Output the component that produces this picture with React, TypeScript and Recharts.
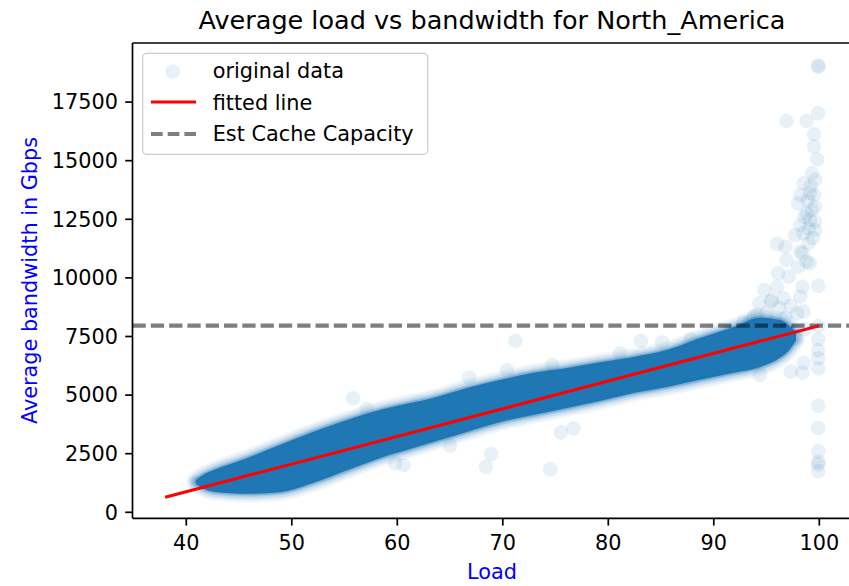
import React from 'react';
import { ComposedChart, Area, Scatter, Line, XAxis, YAxis, ReferenceLine } from 'recharts';

// Dense core of the scatter cloud (read as lower / upper edges of the solid band)
const bandLoad = [40.9, 41.6, 42.6, 45.8, 48.9, 52.0, 55.3, 58.4, 61.2, 63.4, 66.6, 69.8, 72.9, 76.1, 79.2, 82.4, 85.6, 88.7, 91.9, 94.4, 96.3, 97.2, 97.8];
const bandLow = [1230, 1020, 880, 790, 860, 1250, 1800, 2320, 2700, 3000, 3430, 3850, 4150, 4450, 4750, 5090, 5350, 5650, 5950, 6200, 6600, 6950, 7350];
const bandHigh = [1370, 1600, 1800, 2320, 2880, 3430, 3950, 4370, 4660, 4880, 5300, 5650, 5950, 6160, 6400, 6630, 6930, 7440, 7910, 8300, 8200, 7950, 7700];

// Sparse individual points
const outlierLoad = [
  55.8, 57.1, 59.8, 60.6, 65.0, 71.2, 66.8, 70.4, 74.7, 81.1, 75.5, 76.7, 68.9, 68.4, 74.5,
  83.1, 85.1, 87.8, 94.4, 97.3, 98.4, 98.5, 97.8, 98.6,
  99.9, 99.9, 99.9, 99.9, 99.9, 99.9, 99.9, 99.9, 99.9, 99.9, 99.9, 99.9, 99.9, 99.9, 99.9,
  96.9, 98.8, 99.5, 99.5, 99.8, 99.3, 98.5, 99.6, 99.1, 98.2, 99.5, 98.0, 99.6, 98.8, 99.1, 99.6,
  98.2, 97.7, 99.6, 96.0, 96.8, 98.2, 99.0, 96.9, 98.0, 98.8, 96.1, 97.1, 94.8, 96.0, 98.4,
  94.3, 95.5, 96.6, 98.2, 97.9, 98.5, 93.8, 95.4, 94.1, 92.8, 99.1, 98.4,
  99.2, 98.9, 99.3, 98.6, 99.0, 99.4, 98.5, 95.0, 96.2, 93.5, 96.8, 97.3, 95.8,
];
const outlierBw = [
  4860, 4400, 2090, 2020, 2850, 7310, 5750, 6070, 6280, 6780, 3410, 3580, 2490, 1950, 1830,
  7310, 7240, 7380, 5860, 6000, 5960, 6370, 7400, 7800,
  19000, 19060, 17020, 9660, 7950, 7380, 6920, 6570, 6140, 4540, 3600, 2600, 2150, 2050, 1750,
  16690, 16690, 16130, 15600, 15060, 14460, 14040, 14180, 13610, 13540, 13540, 13180, 13040, 12760, 12470, 12400,
  12260, 11830, 12040, 11450, 11330, 11120, 11480, 10760, 10480, 10690, 10200, 10050, 9480, 9620, 9620,
  8920, 9060, 9130, 9200, 8490, 8560, 8350, 8990, 8420, 8080, 10620, 11050,
  13900, 13300, 12900, 12600, 12100, 11700, 11900, 8500, 8700, 8150, 8300, 8800, 8100,
];

const fitLoad = [38, 100];
const fitBw = [640, 7960];
const cacheCapacity = 7960;

const xTicks = [40, 50, 60, 70, 80, 90, 100];
const yTicks = [0, 2500, 5000, 7500, 10000, 12500, 15000, 17500];

const X_DOMAIN: [number, number] = [34.9, 103.1];
const Y_DOMAIN: [number, number] = [-256, 20020];

const bandData = bandLoad.map((x, i) => ({ x, band: [bandLow[i], bandHigh[i]] }));
const scatterData = outlierLoad.map((x, i) => ({ x, y: outlierBw[i] }));
const fitData = fitLoad.map((x, i) => ({ x, y: fitBw[i] }));

// soft halo layers around the dense core (style only)
const haloLayers = [
  { w: 18, o: 0.06 },
  { w: 14, o: 0.08 },
  { w: 10, o: 0.12 },
  { w: 6, o: 0.2 },
];

const FONT = '"DejaVu Sans", Verdana, sans-serif';
const BLUE = '#1f77b4';

const dot = (p: any) => <circle cx={p.cx} cy={p.cy} r={7.3} fill={BLUE} fillOpacity={0.1} />;

export default function App() {
  return (
    <div style={{ position: 'absolute', left: 0, top: 0, width: 849, height: 586, overflow: 'hidden', background: '#fff' }}>
      <ComposedChart width={870} height={586} data={bandData} margin={{ top: 43, right: 18, bottom: 0, left: 0 }}>
        <XAxis
          dataKey="x"
          type="number"
          domain={X_DOMAIN}
          allowDataOverflow
          ticks={xTicks}
          height={67.7}
          tickSize={7.3}
          tickMargin={10}
          axisLine={{ stroke: '#000', strokeWidth: 1.7 }}
          tickLine={{ stroke: '#000', strokeWidth: 1.7 }}
          tick={{ fontSize: 20.8, fill: '#000', fontFamily: FONT }}
        />
        <YAxis
          type="number"
          domain={Y_DOMAIN}
          allowDataOverflow
          ticks={yTicks}
          width={132.5}
          tickSize={7.3}
          tickMargin={7.3}
          axisLine={{ stroke: '#000', strokeWidth: 1.7 }}
          tickLine={{ stroke: '#000', strokeWidth: 1.7 }}
          tick={{ fontSize: 20.8, fill: '#000', fontFamily: FONT }}
        />
        {haloLayers.map((h, i) => (
          <Area
            key={'halo' + i}
            dataKey="band"
            type="monotone"
            fill={BLUE}
            fillOpacity={0}
            stroke={BLUE}
            strokeOpacity={h.o}
            strokeWidth={h.w}
            strokeLinejoin="round"
            strokeLinecap="round"
            isAnimationActive={false}
            dot={false}
            activeDot={false}
          />
        ))}
        <Area
          dataKey="band"
          type="monotone"
          fill={BLUE}
          fillOpacity={1}
          stroke={BLUE}
          strokeOpacity={0.3}
          strokeWidth={3}
          strokeLinejoin="round"
          isAnimationActive={false}
          dot={false}
          activeDot={false}
        />
        <Scatter data={scatterData} dataKey="y" shape={dot} isAnimationActive={false} />
        <ReferenceLine y={cacheCapacity} stroke="#000" strokeOpacity={0.5} strokeWidth={4.2} strokeDasharray="13.3 5" />
        <ReferenceLine y={Y_DOMAIN[1]} stroke="#000" strokeWidth={1.7} ifOverflow="visible" />
        <Line data={fitData} dataKey="y" type="linear" stroke="#ff0000" strokeWidth={3.1} dot={false} activeDot={false} isAnimationActive={false} />
      </ComposedChart>
      <svg width={849} height={586} style={{ position: 'absolute', left: 0, top: 0, pointerEvents: 'none' }}>
        <text x={492} y={28.5} textAnchor="middle" fontFamily={FONT} fontSize={25.5} fill="#000">
          Average load vs bandwidth for North_America
        </text>
        <text x={492} y={579} textAnchor="middle" fontFamily={FONT} fontSize={20.8} fill="#0000ff">
          Load
        </text>
        <text
          x={0}
          y={0}
          transform="translate(37,280.5) rotate(-90)"
          textAnchor="middle"
          fontFamily={FONT}
          fontSize={20.8}
          fill="#0000ff"
        >
          Average bandwidth in Gbps
        </text>
        <rect x={142.7} y={53.3} width={285} height={101} rx={4} ry={4} fill="#fff" fillOpacity={0.8} stroke="#cccccc" strokeWidth={1.2} />
        <circle cx={172.7} cy={71.5} r={7.3} fill={BLUE} fillOpacity={0.1} />
        <text x={212.7} y={78} fontFamily={FONT} fontSize={20.8} fill="#000">original data</text>
        <line x1={151} y1={102} x2={196} y2={102} stroke="#ff0000" strokeWidth={3.1} />
        <text x={212.7} y={109.5} fontFamily={FONT} fontSize={20.8} fill="#000">fitted line</text>
        <line x1={151} y1={134} x2={196} y2={134} stroke="#000" strokeOpacity={0.5} strokeWidth={4.2} strokeDasharray="11.7 5" />
        <text x={212.7} y={141} fontFamily={FONT} fontSize={20.8} fill="#000">Est Cache Capacity</text>
      </svg>
    </div>
  );
}
